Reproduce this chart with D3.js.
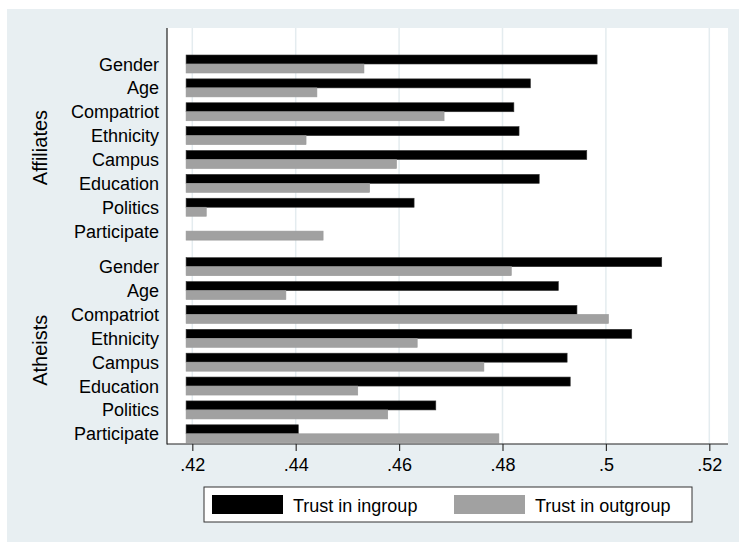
<!DOCTYPE html>
<html lang="en">
<head>
<meta charset="utf-8">
<title>Trust in ingroup vs outgroup</title>
<script src="https://cdn.jsdelivr.net/npm/d3@7"></script>
<style>
body { margin: 0; background: #fff; }
svg text { font-family: "Liberation Sans", Arial, Helvetica, sans-serif; fill: #000; }
</style>
</head>
<body>
<svg width="739" height="542"></svg>
<script>

var categories = ["Gender", "Age", "Compatriot", "Ethnicity", "Campus", "Education", "Politics", "Participate"];
var groups = ["Affiliates", "Atheists"];
var seriesNames = ["Trust in ingroup", "Trust in outgroup"];

// values
var affiliatesIn  = [.4983, .4854, .4822, .4832, .4963, .4871, .4629, null];
var affiliatesOut = [.4532, .4441, .4687, .4420, .4595, .4543, .4227, .4453];
var atheistsIn    = [.5108, .4908, .4944, .5050, .4925, .4931, .4671, .4405];
var atheistsOut   = [.4817, .4381, .5005, .4635, .4764, .4520, .4578, .4793];

var tickValues = [.42, .44, .46, .48, .5, .52];
var tickLabels = [".42", ".44", ".46", ".48", ".5", ".52"];
var barBase = .4188;

var svg = d3.select("svg");

// stata-ish background and plot region
svg.append("rect").attr("x", 7).attr("y", 9).attr("width", 732).attr("height", 533)
    .attr("fill", "#e8eff2");

var plot = {left: 167, right: 728, top: 28, bottom: 444};
svg.append("rect").attr("x", plot.left).attr("y", plot.top)
    .attr("width", plot.right - plot.left).attr("height", plot.bottom - plot.top)
    .attr("fill", "#fff");

var x = d3.scaleLinear().domain([.42, .52]).range([192.3, 709.3]);

// row position -> y of the top of the pair; second group shifted by half a row
var y = d3.scaleLinear().domain([0, 15.49]).range([55, 424.8]);
var barH = 9;

var rows = [];
var series = [[affiliatesIn, affiliatesOut], [atheistsIn, atheistsOut]];
groups.forEach(function(g, gi) {
  categories.forEach(function(c, ci) {
    rows.push({
      group: g, cat: c,
      pos: gi * 8 + ci + (gi === 1 ? 0.49 : 0),
      inVal: series[gi][0][ci],
      outVal: series[gi][1][ci]
    });
  });
});

// gridlines
svg.append("g").selectAll("line").data(tickValues).enter().append("line")
    .attr("x1", function(d) { return x(d); }).attr("x2", function(d) { return x(d); })
    .attr("y1", plot.top).attr("y2", plot.bottom)
    .attr("stroke", "#e4ecef").attr("stroke-width", 1.5);

// bars
var bars = svg.append("g");
bars.selectAll("rect.in").data(rows.filter(function(d) { return d.inVal != null; }))
  .enter().append("rect").attr("class", "in")
    .attr("x", x(barBase))
    .attr("y", function(d) { return y(d.pos); })
    .attr("width", function(d) { return x(d.inVal) - x(barBase); })
    .attr("height", barH)
    .attr("fill", "#000").attr("stroke", "#333").attr("stroke-width", 0.6);

bars.selectAll("rect.out").data(rows.filter(function(d) { return d.outVal != null; }))
  .enter().append("rect").attr("class", "out")
    .attr("x", x(barBase))
    .attr("y", function(d) { return y(d.pos) + barH; })
    .attr("width", function(d) { return x(d.outVal) - x(barBase); })
    .attr("height", barH)
    .attr("fill", "#a1a1a1").attr("stroke", "#999").attr("stroke-width", 0.6);

// y labels
svg.append("g").selectAll("text").data(rows).enter().append("text")
    .attr("x", 159)
    .attr("y", function(d) { return y(d.pos) + barH + 6.5; })
    .attr("text-anchor", "end")
    .style("font-size", "18px")
    .text(function(d) { return d.cat; });

// group labels
groups.forEach(function(g, gi) {
  var mid = (y(gi * 8 + (gi === 1 ? 0.49 : 0)) + y(gi * 8 + 7 + (gi === 1 ? 0.49 : 0)) + 2 * barH) / 2;
  svg.append("text")
      .attr("transform", "translate(46.5," + mid + ") rotate(-90)")
      .attr("text-anchor", "middle")
      .style("font-size", "20px")
      .text(g);
});

// axes lines
svg.append("line").attr("x1", plot.left).attr("x2", plot.left)
    .attr("y1", plot.top).attr("y2", plot.bottom + 0.5)
    .attr("stroke", "#222").attr("stroke-width", 1.2);

var xAxis = d3.axisBottom(x).tickValues(tickValues).tickSize(7).tickPadding(8)
    .tickFormat(function(d, i) { return tickLabels[i]; });
var ax = svg.append("g").attr("transform", "translate(0," + plot.bottom + ")").call(xAxis);
ax.select(".domain").remove();
ax.selectAll(".tick line").attr("stroke", "#333").attr("stroke-width", 1.2);
ax.selectAll(".tick text").style("font-size", "18px")
    .style("font-family", "'Liberation Sans', Arial, sans-serif").attr("y", 14).attr("dy", "0.71em");
svg.append("line").attr("x1", plot.left).attr("x2", plot.right)
    .attr("y1", plot.bottom).attr("y2", plot.bottom)
    .attr("stroke", "#222").attr("stroke-width", 1.2);

// legend
var legend = svg.append("g");
legend.append("rect").attr("x", 204).attr("y", 487).attr("width", 488).attr("height", 35)
    .attr("fill", "#fff").attr("stroke", "#333").attr("stroke-width", 1);
var legendX = [212, 454];
var legendFill = ["#000", "#a1a1a1"];
seriesNames.forEach(function(s, i) {
  legend.append("rect").attr("x", legendX[i]).attr("y", 495).attr("width", 71).attr("height", 19)
      .attr("fill", legendFill[i]);
  legend.append("text").attr("x", legendX[i] + 81).attr("y", 511.5)
      .style("font-size", "18px").text(s);
});

</script>
</body>
</html>
